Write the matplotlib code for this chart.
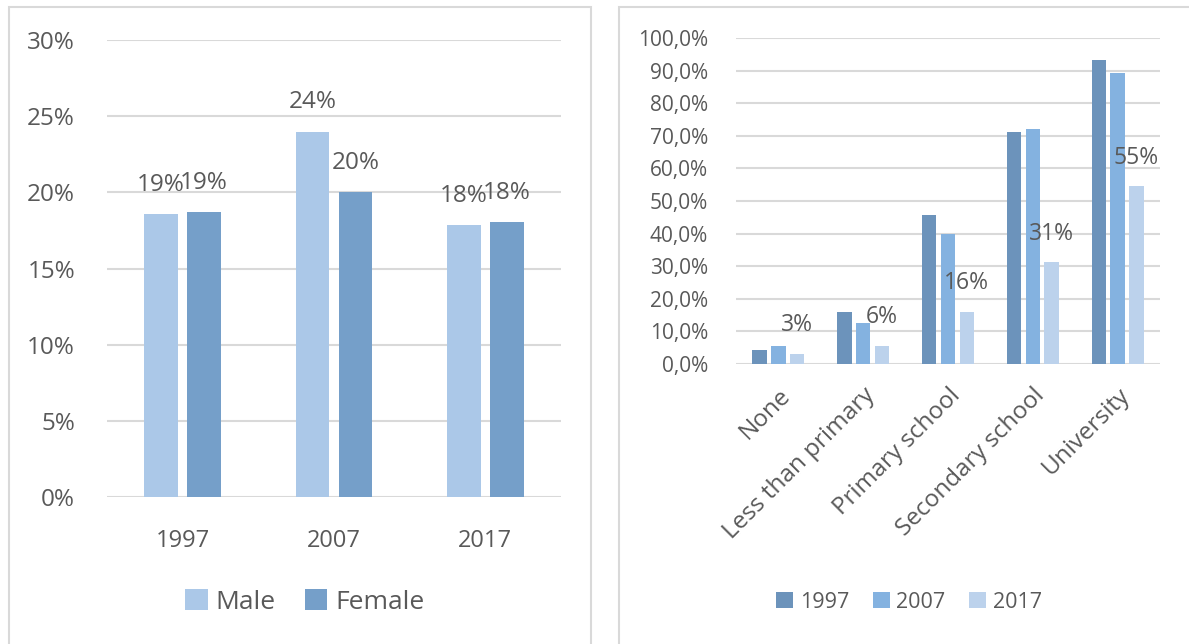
import numpy as np
import matplotlib
matplotlib.use("Agg")
import matplotlib.pyplot as plt
from matplotlib.patches import Rectangle
from matplotlib.ticker import FuncFormatter

plt.rcParams['font.family'] = ['Open Sans', 'DejaVu Sans']

# dados - painel esquerdo (por sexo)
anos = ['1997', '2007', '2017']
male = [18.57, 23.99, 17.87]
female = [18.68, 20.0, 18.06]

# dados - painel direito (por escolaridade)
niveis = ['None', 'Less than primary', 'Primary school', 'Secondary school', 'University']
v1997 = [4.3, 15.8, 45.8, 71.3, 93.1]
v2007 = [5.5, 12.7, 39.9, 72.2, 89.2]
v2017 = [3.1, 5.6, 16.0, 31.2, 54.6]

texto = '#595959'
grade = '#D9D9D9'
c_male, c_female = '#ABC8E8', '#759FC9'
c97, c07, c17 = '#6C93BB', '#84B2E0', '#BCD2EC'

fig = plt.figure(figsize=(11.89, 6.44), dpi=100)
W, H = 1189, 644

# molduras dos dois graficos
fig.patches.append(Rectangle((8.5 / W, -0.05), 582 / W, 1.05 - 6.5 / H, transform=fig.transFigure,
                             fill=False, edgecolor=grade, linewidth=1.5))
fig.patches.append(Rectangle((619 / W, -0.05), 0.5, 1.05 - 7 / H, transform=fig.transFigure,
                             fill=False, edgecolor=grade, linewidth=1.5))


def estilo(ax):
    for s in ax.spines.values():
        s.set_visible(False)
    ax.yaxis.grid(True, color=grade, linewidth=1.5)
    ax.set_axisbelow(True)
    ax.tick_params(length=0, colors=texto)


# Grafico 1: por sexo
ax1 = fig.add_axes([107 / W, 1 - 497 / H, 454 / W, 457 / H])
x = np.arange(len(anos))
w = 0.222
b1 = ax1.bar(x - 0.142, male, w, color=c_male, label='Male')
b2 = ax1.bar(x + 0.142, female, w, color=c_female, label='Female')
for barras in (b1, b2):
    for b in barras:
        ax1.annotate(f'{b.get_height():.0f}%', (b.get_x() + b.get_width() / 2, b.get_height()),
                     xytext=(0, 21), textcoords='offset points', ha='center', va='center',
                     fontsize=17.5, color=texto)
estilo(ax1)
ax1.set_xlim(-0.5, 2.5)
ax1.set_ylim(0, 30)
ax1.set_yticks(range(0, 31, 5))
ax1.yaxis.set_major_formatter(FuncFormatter(lambda v, p: f'{v:.0f}%'))
ax1.set_xticks(x)
ax1.set_xticklabels(anos)
ax1.tick_params(axis='y', labelsize=17.5, pad=23)
ax1.tick_params(axis='x', labelsize=17, pad=23)
fig.legend(handles=[b1, b2], loc='center', bbox_to_anchor=(305 / W, 1 - 602 / H), ncol=2,
           frameon=False, fontsize=19, labelcolor=texto, handlelength=0.85, handleheight=0.85,
           handletextpad=0.3, columnspacing=1.1)

# Grafico 2: por escolaridade
ax2 = fig.add_axes([736 / W, 1 - 364 / H, 424 / W, 326 / H])
x2 = np.arange(len(niveis))
w2 = 0.17
r1 = ax2.bar(x2 - 0.222, v1997, w2, color=c97, label='1997')
r2 = ax2.bar(x2, v2007, w2, color=c07, label='2007')
r3 = ax2.bar(x2 + 0.222, v2017, w2, color=c17, label='2017')
for b in r3:
    ax2.annotate(f'{b.get_height():.0f}%', (b.get_x() + b.get_width() / 2, b.get_height()),
                 xytext=(0, 20.5), textcoords='offset points', ha='center', va='center',
                 fontsize=16.5, color=texto)
estilo(ax2)
ax2.set_xlim(-0.5, 4.5)
ax2.set_ylim(0, 100)
ax2.set_yticks(range(0, 101, 10))
ax2.yaxis.set_major_formatter(FuncFormatter(lambda v, p: f'{v:.1f}%'.replace('.', ',')))
ax2.set_xticks(x2)
ax2.set_xticklabels(niveis, rotation=45, ha='right', rotation_mode='anchor')
ax2.tick_params(axis='y', labelsize=15, pad=20)
ax2.tick_params(axis='x', labelsize=17.5, pad=14)
fig.legend(handles=[r1, r2, r3], loc='center', bbox_to_anchor=(909 / W, 1 - 602 / H), ncol=3,
           frameon=False, fontsize=15.5, labelcolor=texto, handlelength=0.8, handleheight=0.8,
           handletextpad=0.3, columnspacing=1.1)

fig.savefig('out.png', dpi=100)
